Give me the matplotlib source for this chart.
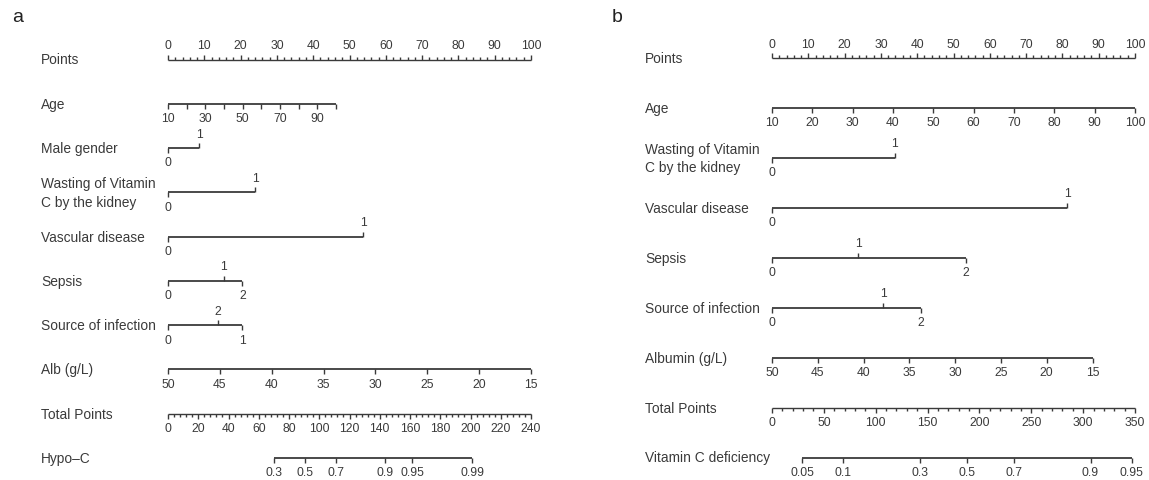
import matplotlib
matplotlib.use("Agg")
import matplotlib.pyplot as plt
import matplotlib.transforms as mtransforms
from matplotlib.markers import TICKUP, TICKDOWN

plt.rcParams["font.family"] = ["Liberation Sans", "DejaVu Sans"]

INK = "#3a3a3a"

# ---- panel a (Hypo-C nomogram) ----
a_rows = ["Points", "Age", "Male gender", "Wasting of Vitamin\nC by the kidney",
          "Vascular disease", "Sepsis", "Source of infection", "Alb (g/L)",
          "Total Points", "Hypo\u2013C"]
a_age_values = [10, 20, 30, 40, 50, 60, 70, 80, 90, 100]
a_age_labels = [10, 30, 50, 70, 90]
a_age_max_points = 46.3
a_male_points = [0, 8.6]
a_wasting_points = [0, 24.0]
a_vascular_points = [0, 53.8]
a_sepsis_levels = ["0", "1", "2"]
a_sepsis_points = [0, 15.3, 20.5]
a_source_levels = ["0", "2", "1"]
a_source_points = [0, 13.8, 20.5]
a_alb_values = [50, 45, 40, 35, 30, 25, 20, 15]
a_total_max = 240
a_prob_labels = ["0.3", "0.5", "0.7", "0.9", "0.95", "0.99"]
a_prob_total = [70.1, 90.6, 111.0, 143.4, 161.3, 201.2]

# ---- panel b (Vitamin C deficiency nomogram) ----
b_rows = ["Points", "Age", "Wasting of Vitamin\nC by the kidney", "Vascular disease",
          "Sepsis", "Source of infection", "Albumin (g/L)", "Total Points",
          "Vitamin C deficiency"]
b_age_values = [10, 20, 30, 40, 50, 60, 70, 80, 90, 100]
b_age_max_points = 100
b_wasting_points = [0, 33.8]
b_vascular_points = [0, 81.3]
b_sepsis_levels = ["0", "1", "2"]
b_sepsis_points = [0, 23.8, 53.4]
b_source_levels = ["0", "1", "2"]
b_source_points = [0, 30.7, 41.0]
b_alb_values = [50, 45, 40, 35, 30, 25, 20, 15]
b_alb_max_points = 88.3
b_total_max = 350
b_prob_labels = ["0.05", "0.1", "0.3", "0.5", "0.7", "0.9", "0.95"]
b_prob_total = [28.9, 68.9, 142.6, 188.2, 233.5, 307.1, 347.0]

W, H = 1149, 481
fig = plt.figure(figsize=(W / 100, H / 100), dpi=100)

TICK_FS = 8.7
LABEL_FS = 9.9
OFF = 10.4  # label offset in points
TL = 3.4    # tick length in points


def make_axes(x0, x1, y_first, y_last, nrows):
    ax = fig.add_axes([x0 / W, 1 - y_last / H, (x1 - x0) / W, (y_last - y_first) / H])
    ax.set_xlim(0, 100)
    ax.set_ylim(nrows - 1, 0)
    ax.axis("off")
    return ax


def base_line(ax, row, p0, p1, lw=1.3):
    ax.plot([p0, p1], [row, row], color=INK, lw=lw, solid_capstyle="butt", clip_on=False)


def tick(ax, row, p, up, length=TL):
    ax.plot([p], [row], marker=TICKUP if up else TICKDOWN, ms=length, mew=1.0,
            color=INK, clip_on=False)


def tick_label(ax, row, p, text, up):
    ax.annotate(text, (p, row), xytext=(0, OFF if up else -OFF), textcoords="offset points",
                ha="center", va="center", fontsize=TICK_FS, color=INK, annotation_clip=False)


def scale_row(ax, row, points, labels, up_flags, show=None):
    base_line(ax, row, min(points), max(points))
    for i, (p, lab, up) in enumerate(zip(points, labels, up_flags)):
        tick(ax, row, p, up)
        if show is None or show[i]:
            tick_label(ax, row, p, lab, up)


def points_row(ax, row):
    base_line(ax, row, 0, 100, lw=1.0)
    for v in range(0, 101, 2):
        tick(ax, row, v, True, TL if v % 10 == 0 else TL * 0.55)
    for v in range(0, 101, 10):
        tick_label(ax, row, v, str(v), True)


def total_row(ax, row, total_max, major, minor):
    base_line(ax, row, 0, 100, lw=1.0)
    for v in range(0, total_max + 1, minor):
        tick(ax, row, v / total_max * 100, False, TL if v % major == 0 else TL * 0.55)
    for v in range(0, total_max + 1, major):
        tick_label(ax, row, v / total_max * 100, str(v), False)


def row_names(ax, names, xpix):
    tr = mtransforms.blended_transform_factory(fig.transFigure, ax.transData)
    for i, name in enumerate(names):
        ax.text(xpix / W, i, name, transform=tr, ha="left", va="center",
                fontsize=LABEL_FS, color=INK, linespacing=1.4)


# ---------- panel a ----------
ax = make_axes(168, 531, 60.5, 459, len(a_rows))
row_names(ax, a_rows, 41)
points_row(ax, 0)
age_pts = [(v - a_age_values[0]) / (a_age_values[-1] - a_age_values[0]) * a_age_max_points
           for v in a_age_values]
scale_row(ax, 1, age_pts, [str(v) for v in a_age_values], [False] * len(age_pts),
          show=[v in a_age_labels for v in a_age_values])
scale_row(ax, 2, a_male_points, ["0", "1"], [False, True])
scale_row(ax, 3, a_wasting_points, ["0", "1"], [False, True])
scale_row(ax, 4, a_vascular_points, ["0", "1"], [False, True])
scale_row(ax, 5, a_sepsis_points, a_sepsis_levels, [False, True, False])
scale_row(ax, 6, a_source_points, a_source_levels, [False, True, False])
alb_pts = [(a_alb_values[0] - v) / (a_alb_values[0] - a_alb_values[-1]) * 100 for v in a_alb_values]
scale_row(ax, 7, alb_pts, [str(v) for v in a_alb_values], [False] * len(alb_pts))
total_row(ax, 8, a_total_max, 20, 4)
scale_row(ax, 9, [t / a_total_max * 100 for t in a_prob_total], a_prob_labels,
          [False] * len(a_prob_total))
fig.text(12 / W, 1 - 18 / H, "a", fontsize=14, color="#222222", va="center", ha="left")

# ---------- panel b ----------
bx = make_axes(772, 1135, 59, 458.5, len(b_rows))
row_names(bx, b_rows, 645)
points_row(bx, 0)
b_age_pts = [(v - b_age_values[0]) / (b_age_values[-1] - b_age_values[0]) * b_age_max_points
             for v in b_age_values]
scale_row(bx, 1, b_age_pts, [str(v) for v in b_age_values], [False] * len(b_age_pts))
scale_row(bx, 2, b_wasting_points, ["0", "1"], [False, True])
scale_row(bx, 3, b_vascular_points, ["0", "1"], [False, True])
scale_row(bx, 4, b_sepsis_points, b_sepsis_levels, [False, True, False])
scale_row(bx, 5, b_source_points, b_source_levels, [False, True, False])
b_alb_pts = [(b_alb_values[0] - v) / (b_alb_values[0] - b_alb_values[-1]) * b_alb_max_points
             for v in b_alb_values]
scale_row(bx, 6, b_alb_pts, [str(v) for v in b_alb_values], [False] * len(b_alb_pts))
total_row(bx, 7, b_total_max, 50, 10)
scale_row(bx, 8, [t / b_total_max * 100 for t in b_prob_total], b_prob_labels,
          [False] * len(b_prob_total))
fig.text(612 / W, 1 - 18 / H, "b", fontsize=14, color="#222222", va="center", ha="left")

fig.savefig("out.png", dpi=100, facecolor="white")
